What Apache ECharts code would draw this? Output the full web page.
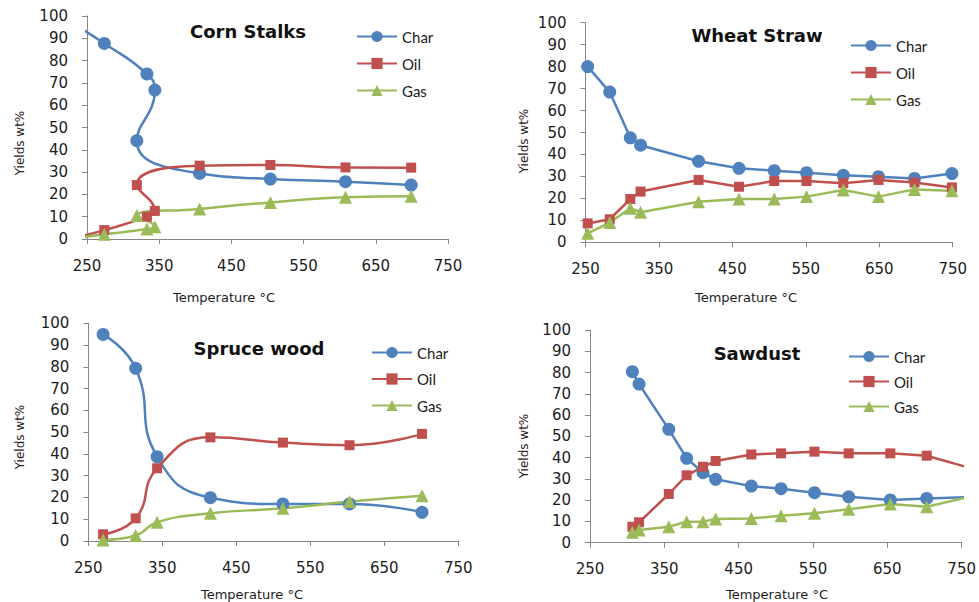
<!DOCTYPE html>
<html>
<head>
<meta charset="utf-8">
<script src="https://cdn.jsdelivr.net/npm/echarts@6/dist/echarts.min.js"></script>
<style>
  html, body { margin: 0; padding: 0; background: #ffffff; }
  #chart { width: 979px; height: 602px; }
</style>
</head>
<body>
<div id="chart"></div>
<script>
// Pyrolysis product yields (wt%) against temperature (°C) for four feedstocks.
// Points are listed in measurement order; lines join them in that order.

const cornTemp = [225, 274, 333, 344, 319, 406, 504, 608, 699];
const cornChar = [97.5, 87.7, 74.0, 66.8, 44.1, 29.4, 26.9, 25.7, 24.2];
const cornOil  = [0, 4.0, 10.0, 12.6, 24.2, 32.9, 33.2, 32.1, 32.0];
const cornGas  = [0, 2.1, 4.5, 5.5, 10.5, 13.5, 16.4, 18.7, 19.2];

const wheatTemp = [253, 283, 311, 325, 404, 459, 507, 551, 601, 649, 698, 749];
const wheatChar = [80.0, 68.4, 47.6, 44.2, 36.9, 33.7, 32.6, 31.7, 30.5, 29.9, 29.1, 31.3];
const wheatOil  = [8.6, 10.5, 19.7, 23.1, 28.4, 25.3, 27.9, 27.9, 26.9, 28.4, 27.2, 25.0];
const wheatGas  = [4.1, 9.0, 15.5, 13.7, 18.5, 19.7, 19.7, 20.8, 23.8, 20.8, 24.1, 23.5];

const spruceTemp = [270, 314, 343, 415, 513, 603, 701];
const spruceChar = [94.9, 79.3, 38.7, 19.9, 17.0, 17.0, 13.2];
const spruceOil  = [3.1, 10.4, 33.4, 47.6, 45.2, 44.0, 49.2];
const spruceGas  = [0.5, 2.5, 8.6, 12.7, 15.0, 18.1, 20.8];

const sawTemp = [307, 316, 356, 380, 402, 419, 467, 507, 552, 598, 654, 703, 800];
const sawChar = [80.4, 74.6, 53.3, 39.7, 32.9, 29.8, 26.6, 25.4, 23.5, 21.6, 20.1, 20.8, 21.8];
const sawOil  = [7.5, 9.6, 22.9, 31.7, 35.7, 38.4, 41.5, 42.0, 42.8, 42.0, 42.0, 40.9, 31.3];
const sawGas  = [4.9, 6.0, 7.5, 9.9, 9.9, 11.1, 11.4, 12.7, 13.8, 15.7, 18.2, 16.9, 24.9];

const xTicks = [250, 350, 450, 550, 650, 750];
const yTicks = [0, 10, 20, 30, 40, 50, 60, 70, 80, 90, 100];
const seriesNames = ['Char', 'Oil', 'Gas'];
const panelTitles = ['Corn Stalks', 'Wheat Straw', 'Spruce wood', 'Sawdust'];

const panels = [
  { temp: cornTemp,   values: [cornChar, cornOil, cornGas],       smooth: true },
  { temp: wheatTemp,  values: [wheatChar, wheatOil, wheatGas],    smooth: false },
  { temp: spruceTemp, values: [spruceChar, spruceOil, spruceGas], smooth: true },
  { temp: sawTemp,    values: [sawChar, sawOil, sawGas],          smooth: false }
];

// Layout of each panel: plot area, legend corner, text anchors
const layout = [
  { grid: { left: 87,    top: 16,    width: 361,   height: 223 },
    legend: { left: 356, top: 29, gap: 12 },
    title: [248, 31], xName: [224, 297], yName: [20, 143] },
  { grid: { left: 585.5, top: 22.7,  width: 367.2, height: 219.6 },
    legend: { left: 850, top: 38, gap: 12 },
    title: [757, 35], xName: [746, 297], yName: [524, 141] },
  { grid: { left: 88.3,  top: 323.3, width: 370,   height: 217.7 },
    legend: { left: 371, top: 345, gap: 11.5 },
    title: [259, 348], xName: [252, 594], yName: [20, 437] },
  { grid: { left: 590,   top: 330,   width: 371.7, height: 212.7 },
    legend: { left: 848, top: 349, gap: 10 },
    title: [757, 353], xName: [777, 594], yName: [524, 446] }
];

const colors = ['#4F81BD', '#C0504D', '#9BBB59'];
const symbols = ['circle', 'rect', 'triangle'];
const symbolSizes = [13, 10, 13];

const axisGray = '#868686';
const textColor = '#1c1c1c';
const tickFont = { fontFamily: 'DejaVu Sans', fontSize: 15, color: textColor };

const grids = [], xAxes = [], yAxes = [], series = [], legends = [], graphics = [];

panels.forEach((p, i) => {
  const L = layout[i];
  grids.push(L.grid);
  xAxes.push({
    type: 'value', gridIndex: i, min: 250, max: 750, interval: 100,
    axisLine: { show: true, lineStyle: { color: axisGray, width: 1 } },
    axisTick: { show: true, length: 5, inside: false, customValues: xTicks, lineStyle: { color: axisGray } },
    axisLabel: Object.assign({ margin: 19, customValues: xTicks }, tickFont),
    splitLine: { show: false }
  });
  yAxes.push({
    type: 'value', gridIndex: i, min: 0, max: 100, interval: 10,
    axisLine: { show: true, lineStyle: { color: axisGray, width: 1 } },
    axisTick: { show: true, length: 5, inside: false, customValues: yTicks, lineStyle: { color: axisGray } },
    axisLabel: Object.assign({ margin: 19, customValues: yTicks }, tickFont),
    splitLine: { show: false }
  });
  p.values.forEach((vals, k) => {
    series.push({
      name: seriesNames[k],
      type: 'line',
      xAxisIndex: i, yAxisIndex: i,
      data: p.temp.map((t, j) => [t, vals[j]]),
      smooth: p.smooth ? 0.5 : false,
      clip: true,
      symbol: symbols[k],
      symbolSize: symbolSizes[k],
      showAllSymbol: true,
      color: colors[k],
      lineStyle: { color: colors[k], width: 2.5 },
      itemStyle: { color: colors[k], borderWidth: 0 },
      emphasis: { disabled: true },
      animation: false
    });
  });
  legends.push({
    orient: 'vertical',
    left: L.legend.left, top: L.legend.top,
    itemWidth: 40, itemHeight: 14, itemGap: L.legend.gap,
    padding: 0,
    data: seriesNames,
    selectedMode: false,
    textStyle: { fontFamily: 'Lato', fontSize: 15, color: textColor, padding: [0, 0, 0, 0] }
  });
  graphics.push({
    type: 'text', x: L.title[0], y: L.title[1],
    style: { text: panelTitles[i], font: 'bold 18px "DejaVu Sans"', fill: '#111111',
             align: 'center', verticalAlign: 'middle' }
  });
  graphics.push({
    type: 'text', x: L.xName[0], y: L.xName[1],
    style: { text: 'Temperature °C', font: '13px "DejaVu Sans"', fill: textColor,
             align: 'center', verticalAlign: 'middle' }
  });
  graphics.push({
    type: 'text', x: L.yName[0], y: L.yName[1], rotation: Math.PI / 2,
    style: { text: 'Yields wt%', font: '12px "DejaVu Sans"', fill: '#2a2020',
             align: 'center', verticalAlign: 'middle' }
  });
});

const chart = echarts.init(document.getElementById('chart'), null, { renderer: 'svg' });
chart.setOption({
  animation: false,
  backgroundColor: '#ffffff',
  grid: grids,
  xAxis: xAxes,
  yAxis: yAxes,
  legend: legends,
  series: series,
  graphic: graphics
});
</script>
</body>
</html>
